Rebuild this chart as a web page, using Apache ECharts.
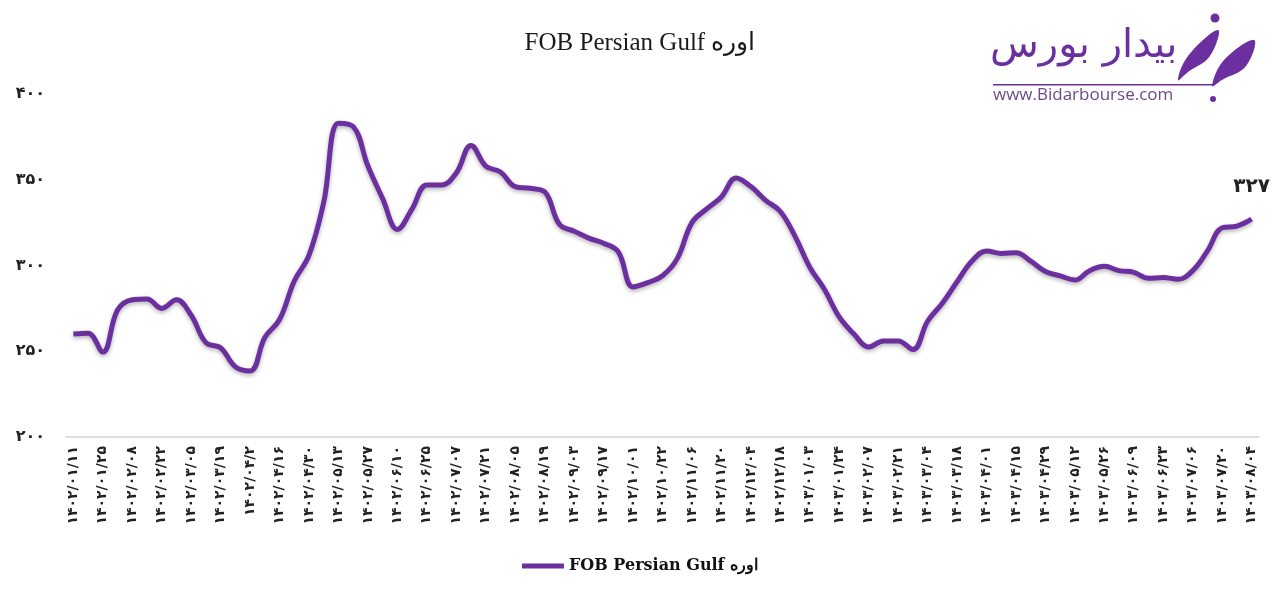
<!DOCTYPE html>
<html>
<head>
<meta charset="utf-8">
<title>اوره FOB Persian Gulf</title>
<script src="https://cdn.jsdelivr.net/npm/echarts@6/dist/echarts.min.js"></script>
<style>
  html, body { margin: 0; padding: 0; background: #fff; }
  #chart { width: 1280px; height: 592px; }
</style>
</head>
<body>
<div id="chart"></div>
<script>
// tick labels shown under the axis (every second week)
const dateLabels = [
  "۱۴۰۲/۰۱/۱۱", "۱۴۰۲/۰۱/۲۵", "۱۴۰۲/۰۲/۰۸", "۱۴۰۲/۰۲/۲۲", "۱۴۰۲/۰۳/۰۵",
  "۱۴۰۲/۰۳/۱۹", "۱۴۰۲/۰۴/۲", "۱۴۰۲/۰۴/۱۶", "۱۴۰۲/۰۴/۳۰", "۱۴۰۲/۰۵/۱۳",
  "۱۴۰۲/۰۵/۲۷", "۱۴۰۲/۰۶/۱۰", "۱۴۰۲/۰۶/۲۵", "۱۴۰۲/۰۷/۰۷", "۱۴۰۲/۰۷/۲۱",
  "۱۴۰۲/۰۸/۰۵", "۱۴۰۲/۰۸/۱۹", "۱۴۰۲/۰۹/۰۳", "۱۴۰۲/۰۹/۱۷", "۱۴۰۲/۱۰/۰۱",
  "۱۴۰۲/۱۰/۲۲", "۱۴۰۲/۱۱/۰۶", "۱۴۰۲/۱۱/۲۰", "۱۴۰۲/۱۲/۰۴", "۱۴۰۲/۱۲/۱۸",
  "۱۴۰۳/۰۱/۰۳", "۱۴۰۳/۰۱/۲۴", "۱۴۰۳/۰۲/۰۷", "۱۴۰۳/۰۲/۲۱", "۱۴۰۳/۰۳/۰۴",
  "۱۴۰۳/۰۳/۱۸", "۱۴۰۳/۰۴/۰۱", "۱۴۰۳/۰۴/۱۵", "۱۴۰۳/۰۴/۲۹", "۱۴۰۳/۰۵/۱۲",
  "۱۴۰۳/۰۵/۲۶", "۱۴۰۳/۰۶/۰۹", "۱۴۰۳/۰۶/۲۳", "۱۴۰۳/۰۷/۰۶", "۱۴۰۳/۰۷/۲۰",
  "۱۴۰۳/۰۸/۰۴"
];

// weekly price, $/t
const ureaPrice = [
  260, 260.5, 249.5, 274, 280, 280.5, 275, 280, 271, 255,
  252, 241, 238.5, 258, 268.5, 291, 306, 337, 383, 381,
  358, 339, 321, 333, 347, 347, 354, 370, 358, 354.5,
  346, 345, 343, 324, 320, 316, 313, 308, 287.5, 290,
  294, 304, 325, 333, 340, 351, 346, 338, 331.5, 317,
  299, 286, 270, 260, 252.5, 256, 256, 251, 267.5, 278,
  290.5, 302.5, 308.5, 307, 307.5, 302.5, 296.5, 294, 291.5, 297,
  299.5, 297, 296, 292.5, 293, 292, 297, 308.5, 322, 323,
  327
];

const yTicks = [200, 250, 300, 350, 400];

const seriesName = "FOB Persian Gulf اوره";
const purple = "#6B2FA0";

// weekly categories, only every second one is labelled
const categories = [];
dateLabels.forEach((d, i) => {
  categories.push(d);
  if (i < dateLabels.length - 1) categories.push(" ".repeat(i + 1));
});

const toFa = (n) => String(n).replace(/\d/g, (d) => "۰۱۲۳۴۵۶۷۸۹"[d]);

const lastIdx = ureaPrice.length - 1;

const chart = echarts.init(document.getElementById("chart"));

const option = {
  backgroundColor: "#fff",
  animation: false,
  title: {
    text: seriesName,
    left: "center",
    top: 26,
    textStyle: {
      fontFamily: "Liberation Serif",
      fontSize: 25,
      fontWeight: "normal",
      color: "#1a1a1a",
    },
  },
  legend: {
    bottom: 13,
    left: "center",
    itemWidth: 42,
    itemHeight: 5,
    itemGap: 4,
    icon: "rect",
    textStyle: {
      fontFamily: "DejaVu Serif",
      fontWeight: "bold",
      fontSize: 16,
      color: "#111",
    },
    data: [seriesName],
  },
  grid: {
    left: 66,
    right: 21,
    top: 94,
    bottom: 155,
  },
  xAxis: {
    type: "category",
    data: categories,
    boundaryGap: true,
    axisLine: { lineStyle: { color: "#d4d4d4", width: 1.5 } },
    axisTick: {
      interval: 0,
      length: 5,
      lineStyle: { color: "#d4d4d4" },
    },
    axisLabel: {
      interval: 1,
      rotate: 90,
      margin: 9,
      fontFamily: "DejaVu Sans",
      fontSize: 14,
      fontWeight: "bold",
      color: "#222",
    },
  },
  yAxis: {
    type: "value",
    min: yTicks[0],
    max: yTicks[yTicks.length - 1],
    interval: 50,
    axisLine: { show: false },
    axisTick: { show: false },
    splitLine: { show: false },
    axisLabel: {
      margin: 21,
      fontFamily: "DejaVu Sans",
      fontSize: 16,
      fontWeight: "bold",
      color: "#222",
      formatter: (v) => toFa(v),
    },
  },
  series: [
    {
      name: seriesName,
      type: "line",
      data: ureaPrice.map((v, i) =>
        i === lastIdx
          ? {
              value: v,
              label: {
                show: true,
                position: "top",
                distance: 22,
                fontFamily: "DejaVu Sans",
                fontSize: 20,
                fontWeight: "bold",
                color: "#222",
                formatter: (p) => toFa(p.value),
              },
            }
          : v
      ),
      smooth: 0.4,
      symbol: "circle",
      symbolSize: 0,
      showSymbol: true,
      showAllSymbol: true,
      color: purple,
      lineStyle: {
        width: 5,
        color: purple,
        shadowColor: "rgba(0,0,0,0.3)",
        shadowBlur: 4,
        shadowOffsetY: 2,
      },
    },
  ],
  // site logo, top right
  graphic: [
    {
      type: "text",
      x: 990,
      y: 27,
      style: {
        text: "بیدار بورس",
        font: "40px 'DejaVu Sans'",
        fill: purple,
      },
    },
    {
      type: "rect",
      shape: { x: 993, y: 84, width: 220, height: 1.5 },
      style: { fill: purple },
    },
    {
      type: "text",
      x: 993,
      y: 87,
      style: {
        text: "www.Bidarbourse.com",
        font: "17px 'Open Sans'",
        fill: "#6a4a8c",
      },
    },
    {
      type: "circle",
      shape: { cx: 1213, cy: 99, r: 3 },
      style: { fill: purple },
    },
    {
      type: "circle",
      shape: { cx: 1215, cy: 18, r: 4.5 },
      style: { fill: purple },
    },
    {
      type: "polygon",
      shape: {
        points: [[1178, 80], [1188, 56], [1218, 30], [1210, 56], [1188, 72]],
        smooth: 0.4,
      },
      style: { fill: purple },
    },
    {
      type: "polygon",
      shape: {
        points: [[1212, 86], [1224, 60], [1254, 40], [1246, 66], [1222, 80]],
        smooth: 0.4,
      },
      style: { fill: purple },
    },
  ],
};

chart.setOption(option);

window.addEventListener("resize", () => {
  chart.resize();
});
</script>
</body>
</html>
